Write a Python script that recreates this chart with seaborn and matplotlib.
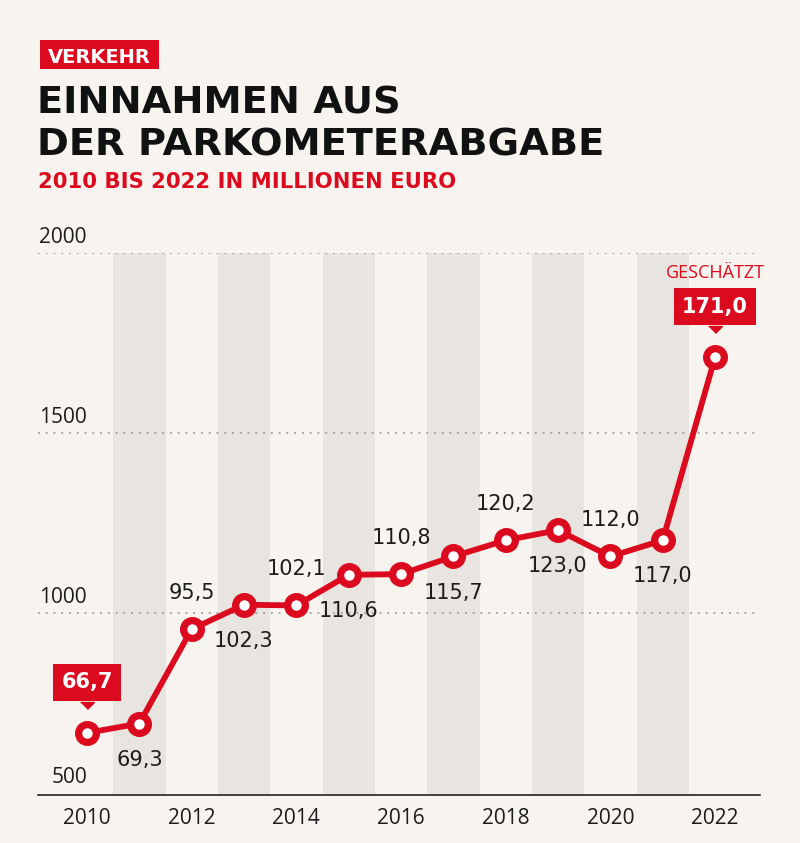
import numpy as np
import pandas as pd
import matplotlib
matplotlib.use("Agg")
import matplotlib.pyplot as plt
import matplotlib.transforms as mtransforms
from matplotlib.patches import Rectangle
import seaborn as sns

# ---------------- data ----------------
years = [2010, 2011, 2012, 2013, 2014, 2015, 2016, 2017, 2018, 2019, 2020, 2021, 2022]
values = [667, 693, 955, 1023, 1021, 1106, 1108, 1157, 1202, 1230, 1157, 1202, 1710]
value_labels = ["66,7", "69,3", "95,5", "102,3", "102,1", "110,6", "110,8",
                "115,7", "120,2", "123,0", "112,0", "117,0", "171,0"]
label_place = ["box", "below", "above", "below", "above", "below", "above",
               "below", "above", "below", "above", "below", "box"]
y_ticks = [500, 1000, 1500, 2000]
x_ticks = [2010, 2012, 2014, 2016, 2018, 2020, 2022]
shaded_years = [2011, 2013, 2015, 2017, 2019, 2021]

# ---------------- style ----------------
RED = "#DC0A1E"
BG = "#F7F3EE"
BAND = "#E8E4DF"
INK = "#1c1c1c"
W, H = 800, 843

sns.set_theme(style="white", rc={"figure.facecolor": BG, "axes.facecolor": BG})
plt.rcParams["font.family"] = ["DejaVu Sans"]

fig = plt.figure(figsize=(W / 100, H / 100), dpi=100)
fig.patch.set_facecolor(BG)

ax_l, ax_r, ax_t, ax_b = 38, 760, 253, 795
ax = fig.add_axes([ax_l / W, 1 - ax_b / H, (ax_r - ax_l) / W, (ax_b - ax_t) / H])
ax.set_facecolor(BG)

px_per_year = (715 - 87) / 12.0
ax.set_xlim(2010 - (87 - ax_l) / px_per_year, 2022 + (ax_r - 715) / px_per_year)
ax.set_ylim(500 - 2 / 0.36, 2000)

for yr in shaded_years:
    ax.axvspan(yr - 0.5, yr + 0.5, color=BAND, lw=0, zorder=0)

for v in y_ticks[1:]:
    ax.axhline(v, color="#9c9c9c", lw=1.3, ls=(0, (1, 3.3)), zorder=1)

df = pd.DataFrame({"Jahr": years, "Wert": values})
sns.lineplot(data=df, x="Jahr", y="Wert", ax=ax, color=RED, lw=4.2,
             marker="o", markersize=12.8, markerfacecolor="white",
             markeredgecolor=RED, markeredgewidth=5.2, zorder=5, clip_on=False)

# value labels
off = 26
tri = [(-1, 0), (1, 0), (0, -1)]
tri_tr = mtransforms.offset_copy(ax.transData, fig=fig, x=0, y=22.5, units="points")
for x, v, lab, pl in zip(years, values, value_labels, label_place):
    if pl == "above":
        ax.annotate(lab, (x, v), xytext=(0, off), textcoords="offset points",
                    ha="center", va="center", fontsize=15, color=INK, zorder=6)
    elif pl == "below":
        ax.annotate(lab, (x, v), xytext=(0, -off), textcoords="offset points",
                    ha="center", va="center", fontsize=15, color=INK, zorder=6)
    else:
        ax.annotate(lab, (x, v), xytext=(0, 36.5), textcoords="offset points",
                    ha="center", va="center", fontsize=15, fontweight="bold",
                    color="white", zorder=7, annotation_clip=False,
                    bbox=dict(boxstyle="square,pad=0.4", fc=RED, ec="none"))
        ax.plot([x], [v], marker=tri, markersize=10, color=RED, lw=0,
                transform=tri_tr, zorder=7, clip_on=False)

ax.annotate("GESCHÄTZT", (years[-1], values[-1]), xytext=(0, 56.9),
            textcoords="offset points", ha="center", va="baseline",
            fontsize=13, color=RED, family=["Open Sans", "DejaVu Sans"],
            annotation_clip=False)

# y tick labels above the grid lines
for v in y_ticks:
    ax.annotate(str(v), (2010, v), xytext=(0, 7.2), textcoords="offset points",
                ha="right", va="baseline", fontsize=15, color=INK,
                family=["Open Sans", "DejaVu Sans"], annotation_clip=False)

ax.set_yticks([])
ax.set_xticks(x_ticks)
ax.set_xticklabels([str(t) for t in x_ticks], fontsize=15, color=INK,
                   family=["Open Sans", "DejaVu Sans"])
ax.tick_params(axis="x", length=0, pad=9)
ax.set_xlabel("")
ax.set_ylabel("")
for s in ["top", "left", "right"]:
    ax.spines[s].set_visible(False)
ax.spines["bottom"].set_color("#111111")
ax.spines["bottom"].set_linewidth(1.1)

# ---------------- header ----------------
fig.patches.append(Rectangle((40 / W, 1 - 69 / H), 119 / W, 29 / H,
                             transform=fig.transFigure, fc=RED, ec="none"))
fig.text(99.5 / W, 1 - 63 / H, "VERKEHR", ha="center", va="baseline",
         fontsize=14, fontweight="bold", color="white")
fig.text(37 / W, 1 - 113 / H, "EINNAHMEN AUS", ha="left", va="baseline",
         fontsize=27.6, fontweight="bold", color="#111111")
fig.text(37 / W, 1 - 155 / H, "DER PARKOMETERABGABE", ha="left", va="baseline",
         fontsize=27.6, fontweight="bold", color="#111111")
fig.text(38 / W, 1 - 188 / H, "2010 BIS 2022 IN MILLIONEN EURO", ha="left",
         va="baseline", fontsize=15.2, fontweight="bold", color=RED)

fig.savefig("out.png", dpi=100, facecolor=BG)
